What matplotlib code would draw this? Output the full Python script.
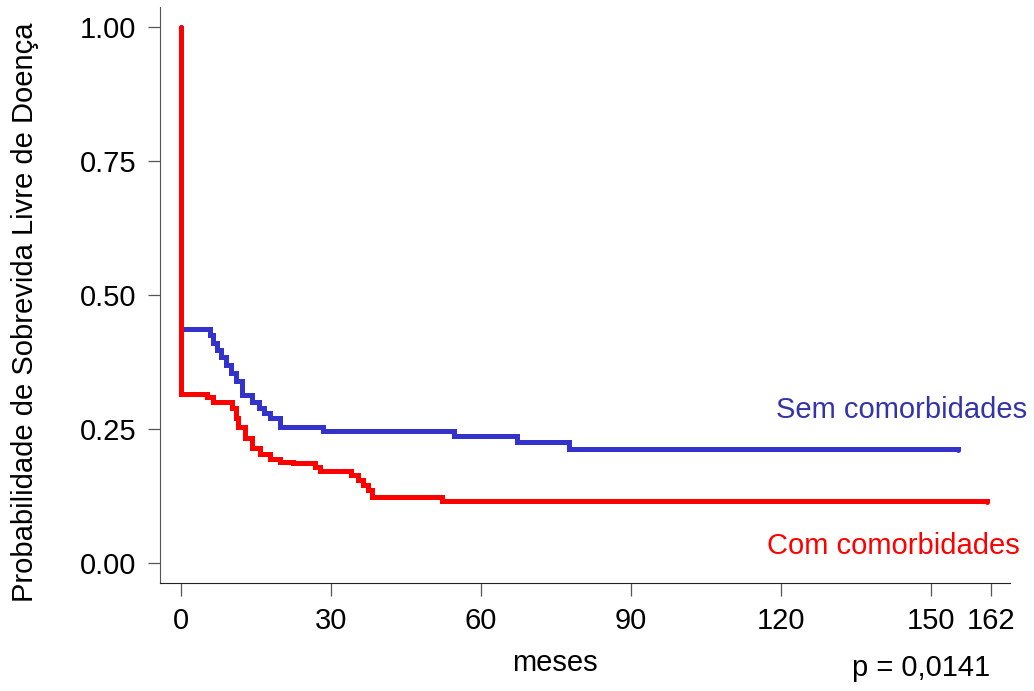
import numpy as np
import matplotlib
matplotlib.use("Agg")
import matplotlib.pyplot as plt

plt.rcParams['font.family'] = ['Liberation Sans', 'DejaVu Sans']

# Kaplan-Meier steps (months, survival)
t_sem = [0, 0, 5.8, 6.4, 7.2, 8.0, 9.0, 10.0, 11.0, 12.2, 14.2, 15.5, 16.5, 17.8, 19.8, 28.4, 54.6, 67.2, 77.6, 155.4]
s_sem = [1.0, 0.437, 0.425, 0.41, 0.397, 0.385, 0.37, 0.355, 0.34, 0.313, 0.30, 0.29, 0.28, 0.27, 0.254, 0.246, 0.238, 0.226, 0.213, 0.211]

t_com = [0, 0, 5.2, 6.4, 10.2, 11.0, 11.4, 12.8, 14.2, 15.8, 17.8, 19.8, 22.4, 26.8, 27.8, 34.0, 35.4, 36.4, 37.4, 38.2, 52.2, 161.2]
s_com = [1.0, 0.315, 0.31, 0.30, 0.289, 0.27, 0.254, 0.233, 0.215, 0.203, 0.194, 0.188, 0.186, 0.179, 0.172, 0.164, 0.155, 0.145, 0.136, 0.123, 0.116, 0.114]

x_ticks = [0, 30, 60, 90, 120, 150, 162]
y_ticks = [0.0, 0.25, 0.5, 0.75, 1.0]
y_ticklabels = ["0.00", "0.25", "0.50", "0.75", "1.00"]

fig = plt.figure(figsize=(10.34, 6.91), dpi=100)
ax = fig.add_axes([160/1034, 1-583/691, 850/1034, 576/691])

ax.plot(t_sem, s_sem, drawstyle="steps-post", color="#3333CC", lw=3.6, solid_capstyle="round", solid_joinstyle="miter")
ax.plot(t_com, s_com, drawstyle="steps-post", color="#FF0000", lw=3.6, solid_capstyle="round", solid_joinstyle="miter")

ax.set_xlim(-4.2, 165.8)
ax.set_ylim(-0.037, 1.037)
ax.set_xticks(x_ticks)
ax.set_yticks(y_ticks)
ax.set_yticklabels(y_ticklabels)

for side in ["top", "right"]:
    ax.spines[side].set_visible(False)
ax.spines["left"].set_color("#555555")
ax.spines["bottom"].set_color("#222222")
ax.tick_params(axis="both", labelsize=21, length=9, width=0.9, color="#555555", pad=8)

fig.text(1027/1034, 1-410/691, "Sem comorbidades", color="#3333AA", fontsize=21, ha="right", va="center")
fig.text(1020/1034, 1-546/691, "Com comorbidades", color="#FF0000", fontsize=21, ha="right", va="center")
fig.text(555/1034, 1-663/691, "meses", fontsize=21, ha="center", va="center")
fig.text(990/1034, 1-668/691, "p = 0,0141", fontsize=21, ha="right", va="center")
fig.text(25/1034, 1-312/691, "Probabilidade de Sobrevida Livre de Doença", fontsize=21,
         rotation=90, ha="center", va="center")

fig.savefig("out.png", dpi=100)
